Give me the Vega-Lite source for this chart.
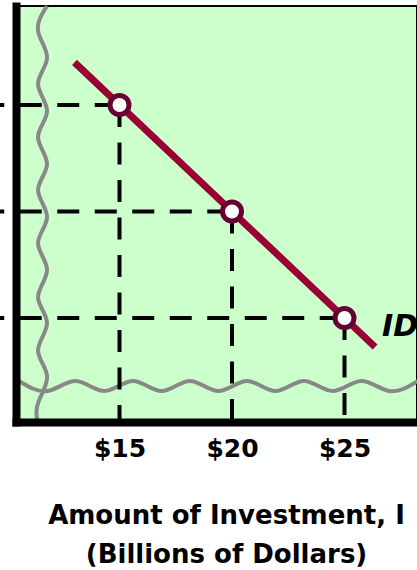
{
  "$schema": "https://vega.github.io/schema/vega-lite/v6.json",
  "width": 401,
  "height": 416,
  "autosize": {"type": "none"},
  "padding": {"left": 16, "top": 6, "right": 0, "bottom": 148},
  "background": "white",
  "config": {
    "view": {"fill": "#ccffcc", "stroke": "black", "strokeWidth": 2},
    "font": "DejaVu Sans"
  },
  "datasets": {
    "points": [
      {"I": 15, "r": 10},
      {"I": 20, "r": 8},
      {"I": 25, "r": 6}
    ],
    "demand": [
      {"I": 13.0, "r": 10.8, "name": ""},
      {"I": 26.36, "r": 5.456, "name": "ID"}
    ],
    "breakH": [
      {"I": 10.53, "r": 4.817}, {"I": 11.8, "r": 4.629}, {"I": 13.07, "r": 4.817},
      {"I": 14.33, "r": 4.629}, {"I": 15.6, "r": 4.817}, {"I": 16.87, "r": 4.629},
      {"I": 18.13, "r": 4.817}, {"I": 19.4, "r": 4.629}, {"I": 20.67, "r": 4.817},
      {"I": 21.93, "r": 4.629}, {"I": 23.2, "r": 4.817}, {"I": 24.47, "r": 4.629},
      {"I": 25.73, "r": 4.817}, {"I": 27.0, "r": 4.629}, {"I": 28.27, "r": 4.817}
    ],
    "breakV": [
      {"I": 11.78, "r": 11.859}, {"I": 11.38, "r": 11.39}, {"I": 11.78, "r": 10.883},
      {"I": 11.38, "r": 10.394}, {"I": 11.78, "r": 9.887}, {"I": 11.38, "r": 9.399},
      {"I": 11.78, "r": 8.892}, {"I": 11.38, "r": 8.404}, {"I": 11.78, "r": 7.897},
      {"I": 11.38, "r": 7.408}, {"I": 11.78, "r": 6.901}, {"I": 11.38, "r": 6.394},
      {"I": 11.78, "r": 5.906}, {"I": 11.38, "r": 5.399}, {"I": 11.78, "r": 4.911},
      {"I": 11.38, "r": 4.404}, {"I": 11.38, "r": 4.009}
    ]
  },
  "encoding": {
    "x": {
      "field": "I",
      "type": "quantitative",
      "scale": {"domain": [10.4, 28.222], "nice": false, "zero": false},
      "axis": {
        "values": [15, 20, 25],
        "labelExpr": "'$' + datum.value",
        "labelFont": "DejaVu Sans",
        "labelFontWeight": "bold",
        "labelFontSize": 25,
        "labelColor": "black",
        "labelPadding": 14,
        "ticks": false,
        "grid": false,
        "domainColor": "black",
        "domainWidth": 8,
        "domainCap": "square",
        "zindex": 1,
        "title": ["Amount of Investment, I", "(Billions of Dollars)"],
        "titleFont": "DejaVu Sans",
        "titleFontWeight": "bold",
        "titleFontSize": 26,
        "titleColor": "black",
        "titleLineHeight": 39,
        "titleBaseline": "alphabetic",
        "titleX": 210,
        "titleY": 101
      }
    },
    "y": {
      "field": "r",
      "type": "quantitative",
      "scale": {"domain": [4.047, 11.859], "nice": false, "zero": false},
      "axis": {
        "labels": false,
        "ticks": false,
        "grid": false,
        "title": null,
        "domainColor": "black",
        "domainWidth": 8,
        "domainCap": "square",
        "zindex": 1
      }
    }
  },
  "layer": [
    {
      "data": {"name": "breakH"},
      "mark": {"type": "line", "color": "#888888", "strokeWidth": 4, "interpolate": "natural"}
    },
    {
      "data": {"name": "breakV"},
      "mark": {"type": "line", "color": "#888888", "strokeWidth": 4, "interpolate": "natural"},
      "encoding": {"order": {"field": "r", "sort": "descending"}}
    },
    {
      "data": {"name": "points"},
      "mark": {"type": "rule", "color": "black", "strokeWidth": 4, "strokeDash": [22, 15.5]},
      "encoding": {
        "x": {"datum": 8.9, "type": "quantitative"},
        "x2": {"field": "I"}
      }
    },
    {
      "data": {"name": "points"},
      "mark": {"type": "rule", "color": "black", "strokeWidth": 4, "strokeDash": [22, 15.5]},
      "encoding": {
        "y2": {"datum": 4.047}
      }
    },
    {
      "data": {"name": "demand"},
      "mark": {"type": "line", "color": "#990033", "strokeWidth": 7}
    },
    {
      "data": {"name": "points"},
      "mark": {"type": "point", "filled": false, "fill": "white", "fillOpacity": 1, "stroke": "#660033", "strokeWidth": 5, "opacity": 1, "size": 360}
    },
    {
      "data": {"name": "demand"},
      "mark": {"type": "text", "align": "left", "baseline": "alphabetic", "dx": 7, "dy": -11, "fontSize": 30, "fontWeight": "bold", "fontStyle": "italic", "color": "black"},
      "encoding": {"text": {"field": "name"}}
    }
  ]
}
